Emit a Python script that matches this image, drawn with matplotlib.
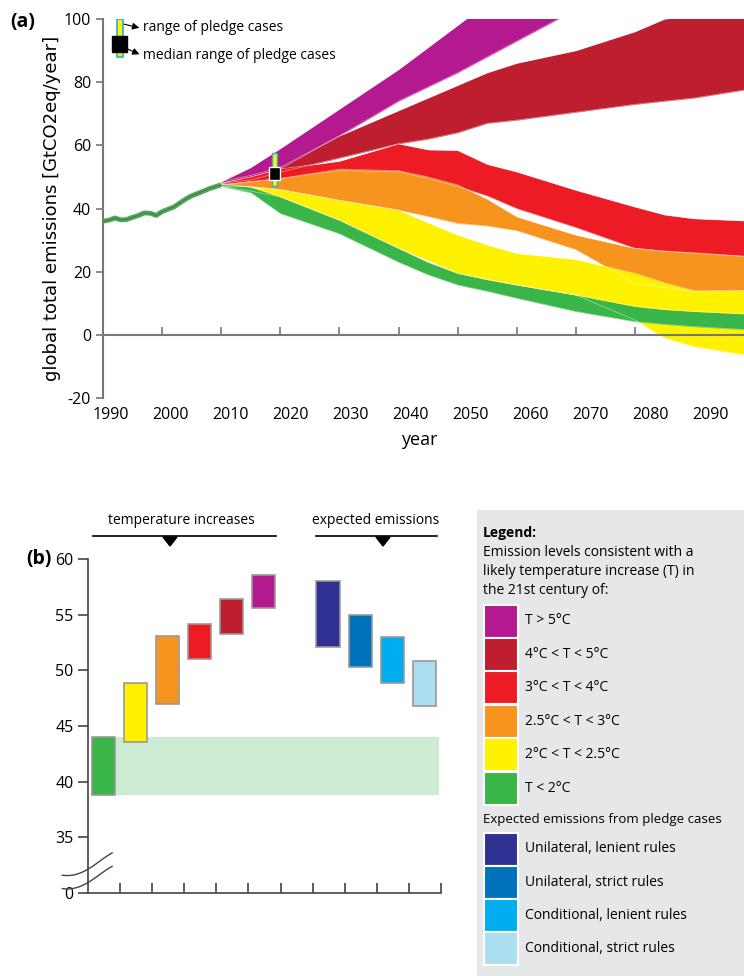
import matplotlib
matplotlib.use("Agg")
import matplotlib.pyplot as plt
from matplotlib.patches import Rectangle, Polygon
import numpy as np

plt.rcParams['font.family'] = ['Liberation Sans Narrow', 'Open Sans', 'DejaVu Sans']

# ---------------- data panel (a) ----------------
hist_years = [1990, 1991, 1992, 1993, 1994, 1995, 1996, 1997, 1998, 1999, 2000, 2002, 2004, 2005, 2007, 2008, 2010]
hist_vals = [36, 36.3, 37, 36.4, 36.5, 37.2, 37.8, 38.6, 38.5, 37.8, 39, 40.5, 43, 44, 45.5, 46.3, 47.5]

band_years = [2010, 2015, 2020, 2030, 2040, 2045, 2050, 2055, 2060, 2070, 2080, 2085, 2090, 2100]
mag_lo = [48, 50, 52.5, 63, 74, 78.5, 83, 88, 93, 103, 110, 113, 116, 120]
mag_hi = [48.5, 53, 59, 71.5, 84, 91, 98, 105, 112, 120, 125, 128, 130, 135]
dred_lo = [48, 49, 51.5, 56, 60.5, 62, 64, 67, 68, 70.5, 73, 74, 75, 78]
dred_hi = [48.5, 50.5, 53, 63, 71, 75, 79, 83, 86, 90, 96, 100, 101, 101]
red_lo = [47.5, 48.5, 49.5, 52, 51.6, 49.5, 47, 44, 40, 34, 27.4, 26.5, 25.8, 24.7]
red_hi = [48, 50, 52.5, 55, 60.5, 58.6, 58.4, 54, 51.6, 45.8, 40.5, 38, 36.8, 36]
ora_lo = [47, 47, 46, 42.6, 39.5, 37.5, 35.3, 34.5, 33, 27, 16.3, 15, 13.7, 14]
ora_hi = [47.5, 48.5, 49.5, 52.5, 52, 50, 47.5, 43, 37.4, 31.6, 27.4, 26.5, 26, 24.7]
yel_lo = [47, 45.5, 43.7, 36.3, 27.4, 23.5, 19.5, 17.5, 15.8, 12.6, 4.7, -1, -3.7, -6.8]
yel_hi = [47.5, 46.8, 46, 42.6, 39.5, 35.5, 31.6, 28.5, 25.8, 23.9, 19.5, 16.5, 14, 14]
grn_lo = [47, 45, 38.4, 32, 23, 19, 15.8, 13.8, 11.6, 7.4, 4.2, 3.3, 2.6, 1.5]
grn_hi = [48, 46.8, 43.7, 36.3, 27.4, 23, 19.5, 17.5, 15.8, 12.6, 9, 8, 7.4, 6.5]

pledge_year = 2019
pledge_range = [47, 57.5]
pledge_median = 51

xticks_a = [1990, 2000, 2010, 2020, 2030, 2040, 2050, 2060, 2070, 2080, 2090, 2100]
yticks_a = [-20, 0, 20, 40, 60, 80, 100]

# ---------------- data panel (b) ----------------
temp_labels = ['T < 2°C', '2°C < T < 2.5°C', '2.5°C < T < 3°C', '3°C < T < 4°C', '4°C < T < 5°C', 'T > 5°C']
temp_lo = [38.8, 43.6, 47.0, 51.0, 53.3, 55.6]
temp_hi = [44.0, 48.9, 53.1, 54.2, 56.4, 58.6]
pledge_labels = ['Unilateral, lenient rules', 'Unilateral, strict rules', 'Conditional, lenient rules', 'Conditional, strict rules']
pledge_lo = [52.1, 50.3, 48.9, 46.8]
pledge_hi = [58.0, 55.0, 53.0, 50.8]
yticks_b = [35, 40, 45, 50, 55, 60]

temp_colors = ['#3ab54a', '#fff200', '#f7941d', '#ed1c24', '#be1e2d', '#b5198f']
pledge_colors = ['#2e3192', '#0072bc', '#00aeef', '#abdfef']

W, H = 744, 976
def fy(p):
    return 1 - p / H

fig = plt.figure(figsize=(7.44, 9.76), dpi=100)

# ================= panel (a) =================
ax = fig.add_axes([103/W, fy(398), 1-103/W, (398-19)/H])
ax.set_xlim(1990, 1990 + (744-103)/5.91)
ax.set_ylim(-20, 100)
ax.patch.set_alpha(0)
bands = [(mag_lo, mag_hi, temp_colors[5]), (dred_lo, dred_hi, temp_colors[4]),
         (red_lo, red_hi, temp_colors[3]), (ora_lo, ora_hi, temp_colors[2]),
         (yel_lo, yel_hi, temp_colors[1]), (grn_lo, grn_hi, temp_colors[0])]
for lo, hi, c in bands:
    ax.fill_between(band_years, lo, hi, color=c, lw=0, zorder=2)
    ax.plot(band_years, lo, color='white', lw=0.5, alpha=0.5, zorder=2.5)
    ax.plot(band_years, hi, color='white', lw=0.5, alpha=0.5, zorder=2.5)
ax.plot(hist_years, hist_vals, color='#3ab54a', lw=3.5, zorder=3, solid_capstyle='butt')
ax.plot(hist_years, hist_vals, color='#b5198f', lw=0.5, zorder=3)

ax.spines['top'].set_visible(False)
ax.spines['right'].set_visible(False)
ax.spines['bottom'].set_position(('data', 0))
for s in ['left', 'bottom']:
    ax.spines[s].set_color('#777777')
    ax.spines[s].set_linewidth(1.5)
ax.set_xticks(xticks_a[:-1])
ax.set_xticklabels([])
ax.set_yticks(yticks_a)
ax.set_yticklabels([str(v) for v in yticks_a], fontsize=11.5)
ax.tick_params(axis='x', direction='in', length=6, color='#777777', width=1.2)
ax.tick_params(axis='y', direction='out', length=5, color='#777777', width=1.2)
for yr in xticks_a:
    ax.text(1991.3 + (yr - 1990) * 1.015, -23.0, str(yr), ha='center', va='top', fontsize=11.5, clip_on=False)
ax.text(2043.5, -30.5, 'year', ha='center', va='top', fontsize=13)
ax.set_ylabel('global total emissions [GtCO2eq/year]', fontsize=13, family=['DejaVu Sans'], labelpad=2)
fig.text(10/W, fy(22), '(a)', fontsize=14, fontweight='bold', va='center')

# pledge marker
ax.add_patch(Rectangle((pledge_year - 0.45, pledge_range[0]), 0.9, pledge_range[1] - pledge_range[0],
                       facecolor='#fff200', edgecolor='#29abe2', lw=1, zorder=5))
ax.add_patch(Rectangle((pledge_year - 0.9, pledge_median - 2), 1.8, 4,
                       facecolor='black', edgecolor='white', lw=1, zorder=6))
# legend marker
ax.add_patch(Rectangle((1992.3, 88), 1.0, 12, facecolor='#fff200', edgecolor='#29abe2', lw=1.2, zorder=5))
ax.add_patch(Rectangle((1991.6, 89.5), 2.4, 5, facecolor='black', edgecolor='black', lw=1, zorder=6))
ax.annotate('', xy=(1996.6, 97.0), xytext=(1992.8, 98.7),
            arrowprops=dict(arrowstyle='-|>', color='black', lw=0.8, mutation_scale=10))
ax.text(1996.8, 97.2, 'range of pledge cases', fontsize=10, va='center')
ax.annotate('', xy=(1996.6, 88.5), xytext=(1993.5, 91.0),
            arrowprops=dict(arrowstyle='-|>', color='black', lw=0.8, mutation_scale=10))
ax.text(1996.8, 88.5, 'median range of pledge cases', fontsize=10, va='center')

# ================= panel (b) =================
bx = fig.add_axes([88/W, fy(893), (441-88)/W, (893-559)/H])
bx.set_xlim(0, 11)
bx.set_ylim(30, 60)
bx.patch.set_alpha(0)
bx.add_patch(Rectangle((0.1, temp_lo[0]), 10.85, temp_hi[0] - temp_lo[0], facecolor='#cdebd2', lw=0, zorder=1))
for i, (lo, hi, c) in enumerate(zip(temp_lo, temp_hi, temp_colors)):
    bx.add_patch(Rectangle((i + 0.12, lo), 0.72, hi - lo, facecolor=c, edgecolor='#999999', lw=1.2, zorder=3))
for j, (lo, hi, c) in enumerate(zip(pledge_lo, pledge_hi, pledge_colors)):
    bx.add_patch(Rectangle((j + 7 + 0.12, lo), 0.72, hi - lo, facecolor=c, edgecolor='#999999', lw=1.2, zorder=3))
bx.spines['top'].set_visible(False)
bx.spines['right'].set_visible(False)
for s in ['left', 'bottom']:
    bx.spines[s].set_color('#444444')
    bx.spines[s].set_linewidth(1.2)
bx.set_yticks([30] + yticks_b)
bx.set_yticklabels(['0'] + [str(v) for v in yticks_b], fontsize=11.5)
bx.set_xticks(np.arange(1, 12))
bx.set_xticklabels([])
bx.tick_params(axis='x', direction='in', length=7, color='#444444', width=1.2)
bx.tick_params(axis='y', direction='out', length=7, color='#444444', width=1.2)
# axis break marks
u = np.linspace(0, 1, 40)
xs = -0.8 + 1.55 * u
for y0 in [30.4, 31.6]:
    ys = y0 + 0.9 * u + 1.1 * (3*u**2 - 2*u**3) - 0.5 * np.sin(np.pi*u)
    bx.plot(xs, ys, color='#444444', lw=1.0, clip_on=False, zorder=5)
fig.text(26/W, fy(559), '(b)', fontsize=14, fontweight='bold', va='center')

# brackets
fig.add_artist(plt.Line2D([93/W, 276/W], [fy(536)]*2, color='black', lw=1.2))
fig.add_artist(Polygon([[163/W, fy(537)], [177/W, fy(537)], [170/W, fy(546)]], closed=True, color='black'))
fig.text(181/W, fy(520), 'temperature increases', ha='center', va='center', fontsize=10)
fig.add_artist(plt.Line2D([316/W, 437/W], [fy(536)]*2, color='black', lw=1.2))
fig.add_artist(Polygon([[376/W, fy(537)], [390/W, fy(537)], [383/W, fy(546)]], closed=True, color='black'))
fig.text(376/W, fy(520), 'expected emissions', ha='center', va='center', fontsize=10)

# legend box
fig.add_artist(Rectangle((477/W, 0), 1 - 477/W, fy(510), transform=fig.transFigure,
                         facecolor='#e6e7e8', edgecolor='none', zorder=0))
lx = 483/W
fig.text(lx, fy(533), 'Legend:', fontsize=10, fontweight='bold', va='center')
for k, line in enumerate(['Emission levels consistent with a', 'likely temperature increase (T) in', 'the 21st century of:']):
    fig.text(lx, fy(553 + 18.5*k), line, fontsize=10, va='center')
sw_w = 34/W
for k, (lab, c) in enumerate(zip(temp_labels[::-1], temp_colors[::-1])):
    yc = 621 + 33.4*k
    fig.add_artist(Rectangle((lx + 1/W, fy(yc+16.5)), sw_w, 33/H, transform=fig.transFigure,
                             facecolor=c, edgecolor='white', lw=1.5))
    fig.text(lx + 42/W, fy(yc), lab, fontsize=10, va='center')
fig.text(lx, fy(820), 'Expected emissions from pledge cases', fontsize=9.5, va='center')
for k, (lab, c) in enumerate(zip(pledge_labels, pledge_colors)):
    yc = 849 + 33.3*k
    fig.add_artist(Rectangle((lx + 1/W, fy(yc+16.5)), sw_w, 33/H, transform=fig.transFigure,
                             facecolor=c, edgecolor='white', lw=1.5))
    fig.text(lx + 42/W, fy(yc), lab, fontsize=10, va='center')

fig.savefig('out.png', dpi=100)
